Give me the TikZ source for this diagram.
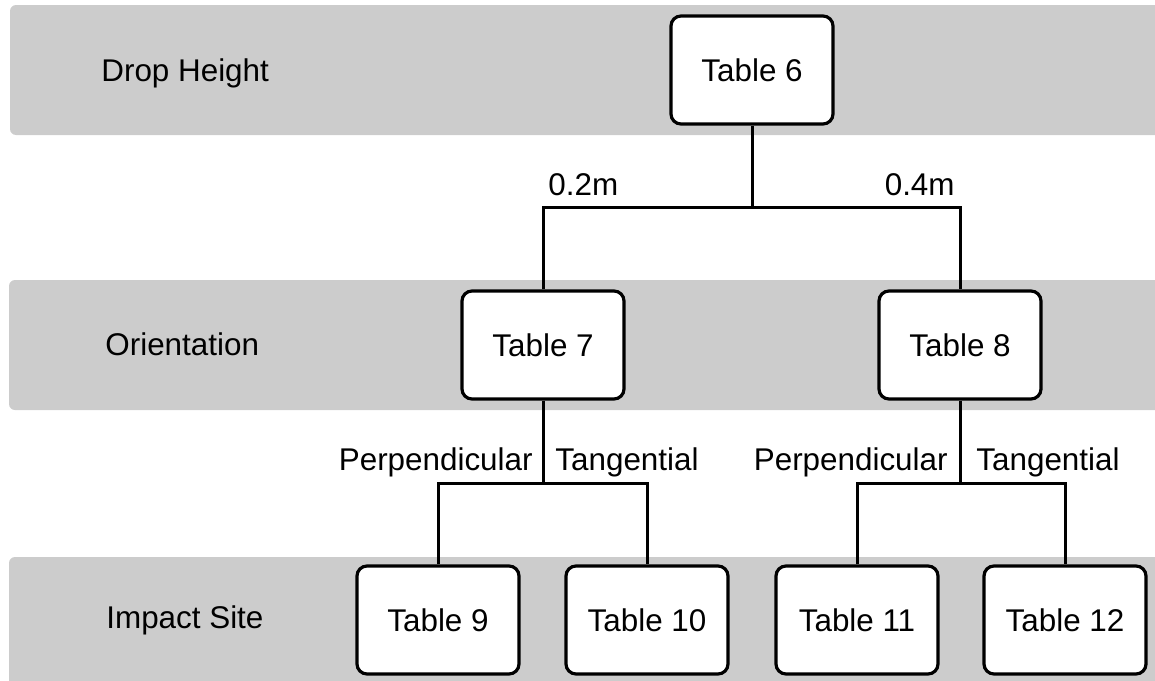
\documentclass[tikz,border=0pt]{standalone}
\usepackage{fontspec}
\setmainfont{Liberation Sans}
\usepackage{tikz}
\usetikzlibrary{positioning}
\definecolor{bandgray}{RGB}{204, 204, 204}

\begin{document}
\begin{tikzpicture}[x=0.5pt, y=-0.5pt,
    tablebox/.style={draw, line width=1.6pt, rounded corners=5pt, fill=white,
        minimum width=81pt, minimum height=54pt, inner sep=0pt,
        font=\fontsize{15.7}{19}\selectfont},
    rowlabel/.style={anchor=base west, inner sep=0pt, font=\fontsize{15.7}{19}\selectfont},
    branch/.style={inner sep=0pt, font=\fontsize{15.7}{19}\selectfont},
    link/.style={line width=1.5pt}]
\useasboundingbox (0,0) rectangle (1155,680);

% Level bands
\fill[bandgray, rounded corners=3pt] (10,5) rectangle (1165,135);
\fill[bandgray, rounded corners=3pt] (9,280) rectangle (1165,410);
\fill[bandgray, rounded corners=3pt] (9,557) rectangle (1165,690);

% Row labels
\node[rowlabel] (drop) at (101,81) {Drop Height};
\node[rowlabel] (orient) at (105,355) {Orientation};
\node[rowlabel] (impact) at (106,628) {Impact Site};

% Tables
\node[tablebox] (t6) at (752,70) {Table 6};
\node[tablebox] (t7) at (543,345) {Table 7};
\node[tablebox] (t8) at (960,345) {Table 8};
\node[tablebox] (t9) at (438,620) {Table 9};
\node[tablebox] (t10) at (647,620) {Table 10};
\node[tablebox] (t11) at (857,620) {Table 11};
\node[tablebox] (t12) at (1065,620) {Table 12};

% Branch points
\coordinate (h1) at (752,207);
\coordinate (h2) at (543,483);
\coordinate (h3) at (960,483);

% Connectors
\draw[link] (t6.south) -- (h1);
\draw[link] (t7.north) |- (h1) -| (t8.north);
\draw[link] (t7.south) -- (h2);
\draw[link] (t9.north) |- (h2) -| (t10.north);
\draw[link] (t8.south) -- (h3);
\draw[link] (t11.north) |- (h3) -| (t12.north);

% Branch labels
\node[branch, anchor=base west] (low) at (548,195) {0.2m};
\node[branch, anchor=base east] (high) at (955,195) {0.4m};
\node[branch, anchor=base east] (perpa) at (533,470) {Perpendicular};
\node[branch, anchor=base west] (tana) at (555,470) {Tangential};
\node[branch, anchor=base east] (perpb) at (948,470) {Perpendicular};
\node[branch, anchor=base west] (tanb) at (976,470) {Tangential};
\end{tikzpicture}
\end{document}
